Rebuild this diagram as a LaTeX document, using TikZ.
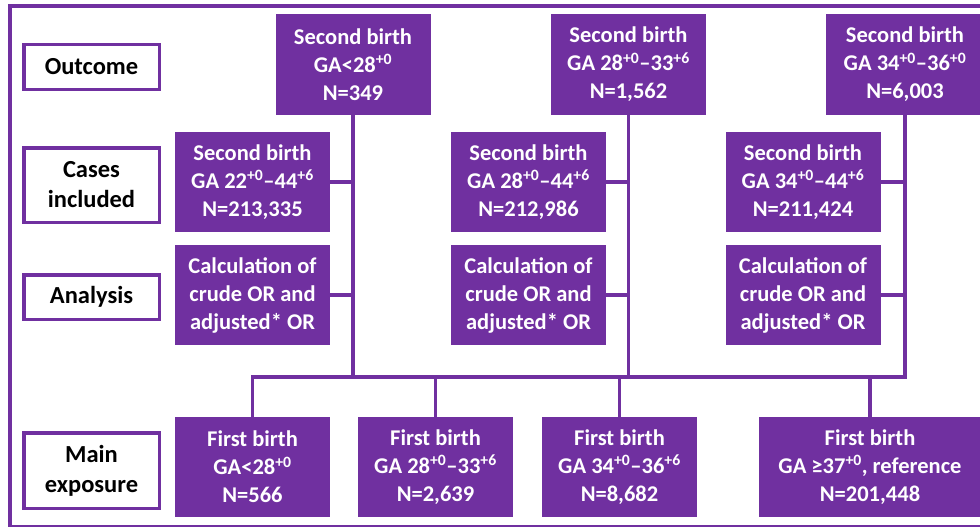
\documentclass[tikz,border=0pt]{standalone}
\usepackage{fontspec}
\setmainfont{Carlito}
\definecolor{studypurple}{HTML}{7030A0}

\begin{document}
\begin{tikzpicture}[
        x=1pt, y=-1pt,
        font=\bfseries\fontsize{22.5}{28}\selectfont,
        frame/.style={draw=studypurple, line width=3.5pt},
        rowlabel/.style={draw=studypurple, line width=3.5pt, fill=white, text=black,
            align=center, inner sep=0pt, minimum width=135.5pt,
            font=\bfseries\fontsize{24.5}{30}\selectfont},
        pbox/.style={fill=studypurple, text=white, align=center, inner sep=0pt,
            minimum width=155pt, minimum height=100pt},
        link/.style={draw=studypurple, line width=3.5pt}
    ]
        \useasboundingbox (0,0) rectangle (980,527);

        % Rahmen
        \draw[frame] (10,6) rectangle (1000,526.5);

        % Zeilenbeschriftungen
        \node[rowlabel, minimum height=44.5pt] (lOutcome) at (91.5,67) {Outcome};
        \node[rowlabel, minimum height=74.5pt] (lCases) at (91.5,185) {Cases\\included};
        \node[rowlabel, minimum height=44.5pt] (lAnalysis) at (91.5,297) {Analysis};
        \node[rowlabel, minimum height=75.5pt] (lExposure) at (91.5,470.5) {Main\\exposure};

        % Outcome
        \node[pbox, minimum height=101pt] (o1) at (353,64.5)
            {Second birth\\GA<28\textsuperscript{+0}\\N=349};
        \node[pbox, minimum height=101pt] (o2) at (628.5,64.5)
            {Second birth\\GA 28\textsuperscript{+0}–33\textsuperscript{+6}\\N=1,562};
        \node[pbox, minimum height=101pt, minimum width=158pt] (o3) at (905,64.5)
            {Second birth\\GA 34\textsuperscript{+0}–36\textsuperscript{+0}\\N=6,003};

        % Cases included
        \node[pbox] (c1) at (252.5,182)
            {Second birth\\GA 22\textsuperscript{+0}–44\textsuperscript{+6}\\N=213,335};
        \node[pbox] (c2) at (528.5,182)
            {Second birth\\GA 28\textsuperscript{+0}–44\textsuperscript{+6}\\N=212,986};
        \node[pbox] (c3) at (803,182)
            {Second birth\\GA 34\textsuperscript{+0}–44\textsuperscript{+6}\\N=211,424};

        % Analysis
        \node[pbox] (a1) at (252.5,295) {Calculation of\\crude OR and\\adjusted* OR};
        \node[pbox] (a2) at (528.5,295) {Calculation of\\crude OR and\\adjusted* OR};
        \node[pbox] (a3) at (803,295) {Calculation of\\crude OR and\\adjusted* OR};

        % Main exposure
        \node[pbox] (e1) at (252.5,467) {First birth\\GA<28\textsuperscript{+0}\\N=566};
        \node[pbox] (e2) at (435.5,467)
            {First birth\\GA 28\textsuperscript{+0}–33\textsuperscript{+6}\\N=2,639};
        \node[pbox] (e3) at (619.5,467)
            {First birth\\GA 34\textsuperscript{+0}–36\textsuperscript{+6}\\N=8,682};
        \node[pbox, minimum width=222pt] (e4) at (870,467)
            {First birth\\GA ≥37\textsuperscript{+0}, reference\\N=201,448};

        % Verbindungen
        \coordinate (bus) at (0,377);
        \draw[link] (e1.north) -- (e1.north |- bus) -- (o3.south |- bus) -- (o3.south);
        \draw[link] (o1.south) -- (o1.south |- bus);
        \draw[link] (o2.south) -- (o2.south |- bus);
        \draw[link] (e2.north) -- (e2.north |- bus);
        \draw[link] (e3.north) -- (e3.north |- bus);
        \draw[link] (e4.north) -- (e4.north |- bus);

        \draw[link] (c1.east) -- (c1.east -| o1.south);
        \draw[link] (a1.east) -- (a1.east -| o1.south);
        \draw[link] (c2.east) -- (c2.east -| o2.south);
        \draw[link] (a2.east) -- (a2.east -| o2.south);
        \draw[link] (c3.east) -- (c3.east -| o3.south);
        \draw[link] (a3.east) -- (a3.east -| o3.south);

    \end{tikzpicture}
\end{document}
